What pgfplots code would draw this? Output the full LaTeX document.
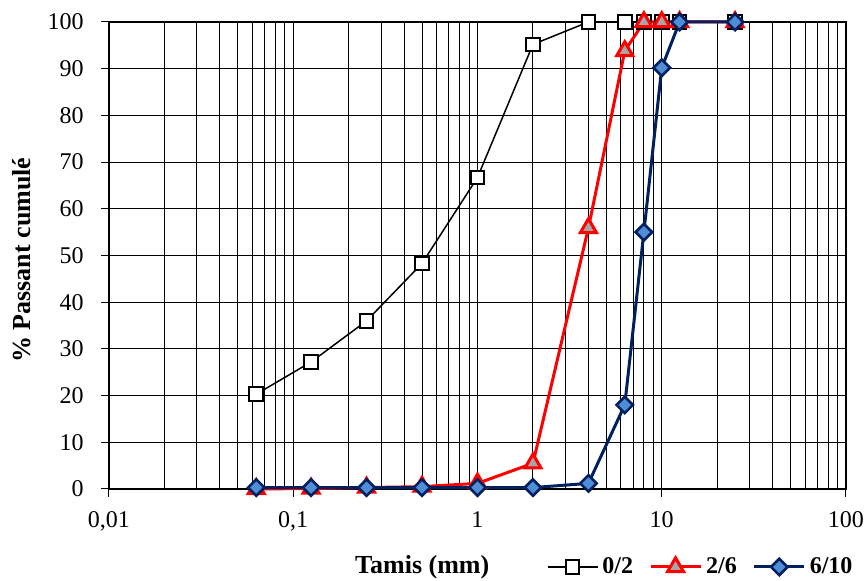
\documentclass[border=0pt,12pt]{standalone}
\usepackage{fontspec}
\setmainfont{Liberation Serif}
\usepackage{pgfplots}
\pgfplotsset{compat=1.18}
\usetikzlibrary{calc}

\definecolor{navy}{RGB}{0,32,96}
\definecolor{lblue}{RGB}{79,141,214}
\definecolor{tgray}{RGB}{166,166,166}

\begin{document}
\begin{tikzpicture}
  \begin{semilogxaxis}[
      name=ax,
      scale only axis,
      width=368.5pt,
      height=233.5pt,
      xmin=0.01, xmax=100,
      ymin=0, ymax=100,
      xtick={0.01,0.1,1,10,100},
      xticklabels={0{,}01,0{,}1,1,10,100},
      ytick={0,10,...,100},
      yticklabels={0,10,20,30,40,50,60,70,80,90,100},
      grid=both,
      major grid style={black, line width=0.5pt},
      minor grid style={black, line width=0.5pt},
      axis line style={line width=1pt},
      tick align=outside,
      tick pos=left,
      major tick length=4pt,
      minor tick length=0pt,
      tick style={black, line width=0.5pt},
      xticklabel style={yshift=-3pt},
      yticklabel style={xshift=-4.5pt},
      clip=false,
      xlabel={\fontsize{13}{15}\selectfont\textbf{Tamis (mm)}},
      xlabel style={at={(axis description cs:0.425,-0.167)}, anchor=center},
      ylabel={\fontsize{13}{15}\selectfont\textbf{\% Passant cumulé}},
      ylabel style={at={(axis description cs:-0.119,0.49)}, anchor=center},
      legend columns=3,
      legend style={draw=none, fill=none, inner sep=0pt, outer sep=0pt,
        at={(axis description cs:0.594,-0.167)}, anchor=west,
        font=\bfseries,
        /tikz/every even column/.append style={column sep=6pt}},
      legend image code/.code={
        \draw[mark repeat=2,mark phase=2] plot coordinates {(0cm,0cm) (0.44cm,0cm) (0.88cm,0cm)};
      },
    ]
    % 0/2
    \addplot[black, line width=0.75pt, mark=square*,
      mark size=3.4pt, mark options={fill=white, draw=black, line width=1pt}]
      coordinates {
        (0.063,20.3) (0.125,27.2) (0.25,36.0) (0.5,48.3) (1,66.7) (2,95.2)
        (4,100) (6.3,100) (8,100) (10,100) (12.5,100) (25,100)
      };
    \addlegendentry{0/2}
    % 2/6
    \addplot[red, line width=1.5pt, mark=triangle*,
      mark size=4.6pt, mark options={fill=tgray, draw=red, line width=1.5pt}]
      coordinates {
        (0.063,0.0) (0.125,0.1) (0.25,0.3) (0.5,0.5) (1,1.2) (2,5.5)
        (4,55.9) (6.3,93.8) (8,100) (10,100) (12.5,100) (25,100)
      };
    \addlegendentry{2/6}
    % 6/10
    \addplot[navy, line width=1.5pt, mark=square*,
      mark size=2.9pt, mark options={rotate=45, fill=lblue, draw=navy, line width=1.3pt}]
      coordinates {
        (0.063,0.3) (0.125,0.3) (0.25,0.3) (0.5,0.3) (1,0.3) (2,0.3)
        (4,1.2) (6.3,18.0) (8,55.0) (10,90.2) (12.5,100) (25,100)
      };
    \addlegendentry{6/10}
  \end{semilogxaxis}
  \pgfresetboundingbox
  \useasboundingbox ($(ax.south west)+(-54.5pt,-46pt)$) rectangle ($(ax.north east)+(10.5pt,11pt)$);
\end{tikzpicture}
\end{document}
